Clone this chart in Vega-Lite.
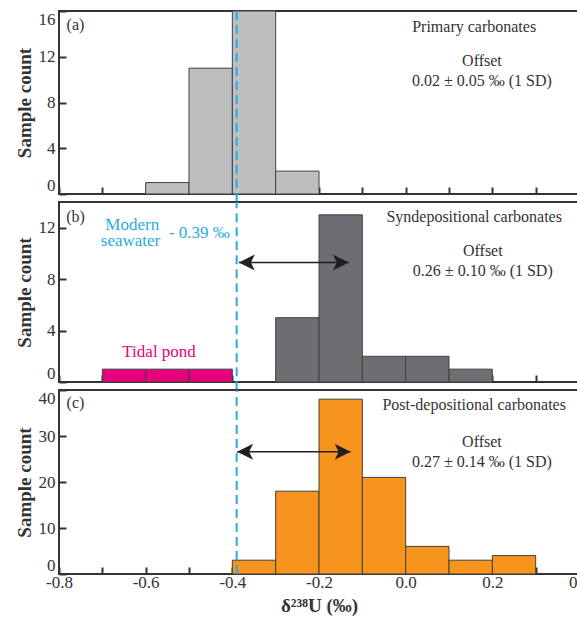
{
  "$schema": "https://vega.github.io/schema/vega-lite/v6.json",
  "padding": {"left": 14, "top": 9, "right": 0, "bottom": 0},
  "background": "white",
  "bounds": "flush",
  "spacing": 8,
  "config": {
    "view": {"stroke": "#333333", "strokeWidth": 2},
    "font": "Liberation Serif",
    "axis": {
      "labelFont": "Liberation Serif", "labelFontSize": 17, "labelColor": "#333333",
      "tickColor": "#333333", "tickWidth": 2, "tickSize": -7, "domain": false, "grid": false,
      "labelFlush": false, "labelOverlap": false, "labelPadding": 11,
      "titleFont": "Liberation Serif", "titleFontSize": 19, "titleFontWeight": "bold", "titleColor": "#333333"
    }
  },
  "datasets": {
    "bars": [
      {"panel": "a", "lo": -0.6, "hi": -0.5, "count": 1, "group": "primary"},
      {"panel": "a", "lo": -0.5, "hi": -0.4, "count": 11, "group": "primary"},
      {"panel": "a", "lo": -0.4, "hi": -0.3, "count": 16, "group": "primary"},
      {"panel": "a", "lo": -0.3, "hi": -0.2, "count": 2, "group": "primary"},
      {"panel": "b", "lo": -0.7, "hi": -0.6, "count": 1, "group": "tidal"},
      {"panel": "b", "lo": -0.6, "hi": -0.5, "count": 1, "group": "tidal"},
      {"panel": "b", "lo": -0.5, "hi": -0.4, "count": 1, "group": "tidal"},
      {"panel": "b", "lo": -0.3, "hi": -0.2, "count": 5, "group": "syn"},
      {"panel": "b", "lo": -0.2, "hi": -0.1, "count": 13, "group": "syn"},
      {"panel": "b", "lo": -0.1, "hi": 0.0, "count": 2, "group": "syn"},
      {"panel": "b", "lo": 0.0, "hi": 0.1, "count": 2, "group": "syn"},
      {"panel": "b", "lo": 0.1, "hi": 0.2, "count": 1, "group": "syn"},
      {"panel": "c", "lo": -0.4, "hi": -0.3, "count": 3, "group": "post"},
      {"panel": "c", "lo": -0.3, "hi": -0.2, "count": 18, "group": "post"},
      {"panel": "c", "lo": -0.2, "hi": -0.1, "count": 38, "group": "post"},
      {"panel": "c", "lo": -0.1, "hi": 0.0, "count": 21, "group": "post"},
      {"panel": "c", "lo": 0.0, "hi": 0.1, "count": 6, "group": "post"},
      {"panel": "c", "lo": 0.1, "hi": 0.2, "count": 3, "group": "post"},
      {"panel": "c", "lo": 0.2, "hi": 0.3, "count": 4, "group": "post"}
    ],
    "seawater": [
      {"panel": "a", "x": -0.39, "y0": -0.7, "y1": 16},
      {"panel": "b", "x": -0.39, "y0": -0.65, "y1": 14},
      {"panel": "c", "x": -0.39, "y0": 0, "y1": 40}
    ],
    "arrows": [
      {"panel": "b", "x0": -0.385, "x1": -0.131, "y": 9.3},
      {"panel": "c", "x0": -0.389, "x1": -0.127, "y": 26.6}
    ],
    "notes": [
      {"panel": "a", "kind": "plain", "x": -0.762, "y": 14.8, "text": "(a)"},
      {"panel": "a", "kind": "plain", "x": 0.158, "y": 14.6, "text": "Primary carbonates"},
      {"panel": "a", "kind": "plain", "x": 0.176, "y": 11.6, "text": "Offset"},
      {"panel": "a", "kind": "plain", "x": 0.176, "y": 9.85, "text": "0.02 ± 0.05 ‰ (1 SD)"},
      {"panel": "b", "kind": "plain", "x": -0.762, "y": 12.8, "text": "(b)"},
      {"panel": "b", "kind": "plain", "x": 0.158, "y": 12.8, "text": "Syndepositional carbonates"},
      {"panel": "b", "kind": "plain", "x": 0.178, "y": 10.2, "text": "Offset"},
      {"panel": "b", "kind": "plain", "x": 0.178, "y": 8.67, "text": "0.26 ± 0.10 ‰ (1 SD)"},
      {"panel": "b", "kind": "seawater", "x": -0.631, "y": 12.25, "text": "Modern"},
      {"panel": "b", "kind": "seawater", "x": -0.635, "y": 11.0, "text": "seawater"},
      {"panel": "b", "kind": "seawater", "x": -0.476, "y": 11.6, "text": "- 0.39 ‰"},
      {"panel": "b", "kind": "tidal", "x": -0.569, "y": 2.3, "text": "Tidal pond"},
      {"panel": "c", "kind": "plain", "x": -0.762, "y": 37.2, "text": "(c)"},
      {"panel": "c", "kind": "plain", "x": 0.158, "y": 36.8, "text": "Post-depositional carbonates"},
      {"panel": "c", "kind": "plain", "x": 0.176, "y": 28.8, "text": "Offset"},
      {"panel": "c", "kind": "plain", "x": 0.176, "y": 24.4, "text": "0.27 ± 0.14 ‰ (1 SD)"}
    ]
  },
  "vconcat": [
    {
      "width": 520, "height": 183,
      "layer": [
        {
          "data": {"name": "bars"},
          "transform": [{"filter": "datum.panel == 'a'"}],
          "mark": {"type": "bar", "stroke": "#404040", "strokeWidth": 1},
          "encoding": {
            "x": {"field": "lo", "type": "quantitative", "scale": {"domain": [-0.8, 0.4], "nice": false, "zero": false},
                  "axis": {"values": [-0.8, -0.7, -0.6, -0.5, -0.4, -0.3, -0.2, -0.1, 0, 0.1, 0.2, 0.3, 0.4], "labels": false, "title": null}},
            "x2": {"field": "hi"},
            "y": {"field": "count", "type": "quantitative", "scale": {"domain": [0, 16], "nice": false},
                  "axis": {"values": [0, 2, 4, 6, 8, 10, 12, 14, 16], "labelExpr": "datum.value % 4 == 0 ? datum.label : ''", "title": "Sample count", "titlePadding": 4,
                           "labelBaseline": {"condition": [{"test": "datum.value == 16", "value": "top"}, {"test": "datum.value == 0", "value": "bottom"}], "value": "middle"}}},
            "y2": {"datum": 0},
            "color": {"field": "group", "type": "nominal", "legend": null,
                      "scale": {"domain": ["primary", "syn", "tidal", "post"], "range": ["#bcbec0", "#6d6e71", "#e6007e", "#f7941d"]}}
          }
        },
        {
          "data": {"name": "seawater"},
          "transform": [{"filter": "datum.panel == 'a'"}],
          "mark": {"type": "rule", "color": "#29abe2", "strokeWidth": 2, "strokeDash": [9, 5]},
          "encoding": {"x": {"field": "x", "type": "quantitative"}, "y": {"field": "y0", "type": "quantitative"}, "y2": {"field": "y1"}}
        },
        {
          "data": {"name": "notes"},
          "transform": [{"filter": "datum.panel == 'a'"}],
          "mark": {"type": "text", "font": "Liberation Serif", "fontSize": 16, "color": "#333333", "align": "center", "baseline": "middle"},
          "encoding": {"x": {"field": "x", "type": "quantitative"}, "y": {"field": "y", "type": "quantitative"}, "text": {"field": "text"}}
        }
      ]
    },
    {
      "width": 520, "height": 180,
      "layer": [
        {
          "data": {"name": "bars"},
          "transform": [{"filter": "datum.panel == 'b'"}],
          "mark": {"type": "bar", "stroke": "#404040", "strokeWidth": 1},
          "encoding": {
            "x": {"field": "lo", "type": "quantitative", "scale": {"domain": [-0.8, 0.4], "nice": false, "zero": false},
                  "axis": {"values": [-0.8, -0.7, -0.6, -0.5, -0.4, -0.3, -0.2, -0.1, 0, 0.1, 0.2, 0.3, 0.4], "labels": false, "title": null}},
            "x2": {"field": "hi"},
            "y": {"field": "count", "type": "quantitative", "scale": {"domain": [0, 14], "nice": false},
                  "axis": {"values": [0, 2, 4, 6, 8, 10, 12], "labelExpr": "datum.value % 4 == 0 ? datum.label : ''", "title": "Sample count", "titlePadding": 4,
                           "labelBaseline": {"condition": {"test": "datum.value == 0", "value": "bottom"}, "value": "middle"}}},
            "y2": {"datum": 0},
            "color": {"field": "group", "type": "nominal", "legend": null,
                      "scale": {"domain": ["primary", "syn", "tidal", "post"], "range": ["#bcbec0", "#6d6e71", "#e6007e", "#f7941d"]}}
          }
        },
        {
          "data": {"name": "seawater"},
          "transform": [{"filter": "datum.panel == 'b'"}],
          "mark": {"type": "rule", "color": "#29abe2", "strokeWidth": 2, "strokeDash": [9, 5]},
          "encoding": {"x": {"field": "x", "type": "quantitative"}, "y": {"field": "y0", "type": "quantitative"}, "y2": {"field": "y1"}}
        },
        {
          "data": {"name": "arrows"},
          "transform": [{"filter": "datum.panel == 'b'"}],
          "mark": {"type": "rule", "color": "#231f20", "strokeWidth": 1.5},
          "encoding": {"x": {"field": "x0", "type": "quantitative"}, "x2": {"field": "x1"}, "y": {"field": "y", "type": "quantitative"}}
        },
        {
          "data": {"name": "arrows"},
          "transform": [{"filter": "datum.panel == 'b'"}],
          "mark": {"type": "point", "filled": true, "color": "#231f20", "opacity": 1, "size": 256, "shape": "M0,0 L2,-1 L1.5,0 L2,1 Z"},
          "encoding": {"x": {"field": "x0", "type": "quantitative"}, "y": {"field": "y", "type": "quantitative"}}
        },
        {
          "data": {"name": "arrows"},
          "transform": [{"filter": "datum.panel == 'b'"}],
          "mark": {"type": "point", "filled": true, "color": "#231f20", "opacity": 1, "size": 256, "shape": "M0,0 L-2,-1 L-1.5,0 L-2,1 Z"},
          "encoding": {"x": {"field": "x1", "type": "quantitative"}, "y": {"field": "y", "type": "quantitative"}}
        },
        {
          "data": {"name": "notes"},
          "transform": [{"filter": "datum.panel == 'b' && datum.kind == 'plain'"}],
          "mark": {"type": "text", "font": "Liberation Serif", "fontSize": 16, "color": "#333333", "align": "center", "baseline": "middle"},
          "encoding": {"x": {"field": "x", "type": "quantitative"}, "y": {"field": "y", "type": "quantitative"}, "text": {"field": "text"}}
        },
        {
          "data": {"name": "notes"},
          "transform": [{"filter": "datum.panel == 'b' && datum.kind == 'seawater'"}],
          "mark": {"type": "text", "font": "Liberation Serif", "fontSize": 17, "color": "#29abe2", "align": "center", "baseline": "middle"},
          "encoding": {"x": {"field": "x", "type": "quantitative"}, "y": {"field": "y", "type": "quantitative"}, "text": {"field": "text"}}
        },
        {
          "data": {"name": "notes"},
          "transform": [{"filter": "datum.panel == 'b' && datum.kind == 'tidal'"}],
          "mark": {"type": "text", "font": "Liberation Serif", "fontSize": 17, "color": "#e6007e", "align": "center", "baseline": "middle"},
          "encoding": {"x": {"field": "x", "type": "quantitative"}, "y": {"field": "y", "type": "quantitative"}, "text": {"field": "text"}}
        }
      ]
    },
    {
      "width": 520, "height": 184,
      "layer": [
        {
          "data": {"name": "bars"},
          "transform": [{"filter": "datum.panel == 'c'"}],
          "mark": {"type": "bar", "stroke": "#404040", "strokeWidth": 1},
          "encoding": {
            "x": {"field": "lo", "type": "quantitative", "scale": {"domain": [-0.8, 0.4], "nice": false, "zero": false},
                  "axis": {"values": [-0.8, -0.7, -0.6, -0.5, -0.4, -0.3, -0.2, -0.1, 0, 0.1, 0.2, 0.3, 0.4],
                           "labelExpr": "round(datum.value * 10) % 2 == 0 ? replace(format(datum.value, '.1f'), '\u2212', '-') : ''",
                           "title": "δ²³⁸U (‰)", "titlePadding": 6, "labelPadding": 7}},
            "x2": {"field": "hi"},
            "y": {"field": "count", "type": "quantitative", "scale": {"domain": [0, 40], "nice": false},
                  "axis": {"values": [0, 5, 10, 15, 20, 25, 30, 35, 40], "labelExpr": "datum.value % 10 == 0 ? datum.label : ''", "title": "Sample count", "titlePadding": 4,
                           "labelBaseline": {"condition": [{"test": "datum.value == 40", "value": "top"}, {"test": "datum.value == 0", "value": "bottom"}], "value": "middle"}}},
            "y2": {"datum": 0},
            "color": {"field": "group", "type": "nominal", "legend": null,
                      "scale": {"domain": ["primary", "syn", "tidal", "post"], "range": ["#bcbec0", "#6d6e71", "#e6007e", "#f7941d"]}}
          }
        },
        {
          "data": {"name": "seawater"},
          "transform": [{"filter": "datum.panel == 'c'"}],
          "mark": {"type": "rule", "color": "#29abe2", "strokeWidth": 2, "strokeDash": [9, 5]},
          "encoding": {"x": {"field": "x", "type": "quantitative"}, "y": {"field": "y0", "type": "quantitative"}, "y2": {"field": "y1"}}
        },
        {
          "data": {"name": "arrows"},
          "transform": [{"filter": "datum.panel == 'c'"}],
          "mark": {"type": "rule", "color": "#231f20", "strokeWidth": 1.5},
          "encoding": {"x": {"field": "x0", "type": "quantitative"}, "x2": {"field": "x1"}, "y": {"field": "y", "type": "quantitative"}}
        },
        {
          "data": {"name": "arrows"},
          "transform": [{"filter": "datum.panel == 'c'"}],
          "mark": {"type": "point", "filled": true, "color": "#231f20", "opacity": 1, "size": 256, "shape": "M0,0 L2,-1 L1.5,0 L2,1 Z"},
          "encoding": {"x": {"field": "x0", "type": "quantitative"}, "y": {"field": "y", "type": "quantitative"}}
        },
        {
          "data": {"name": "arrows"},
          "transform": [{"filter": "datum.panel == 'c'"}],
          "mark": {"type": "point", "filled": true, "color": "#231f20", "opacity": 1, "size": 256, "shape": "M0,0 L-2,-1 L-1.5,0 L-2,1 Z"},
          "encoding": {"x": {"field": "x1", "type": "quantitative"}, "y": {"field": "y", "type": "quantitative"}}
        },
        {
          "data": {"name": "notes"},
          "transform": [{"filter": "datum.panel == 'c'"}],
          "mark": {"type": "text", "font": "Liberation Serif", "fontSize": 16, "color": "#333333", "align": "center", "baseline": "middle"},
          "encoding": {"x": {"field": "x", "type": "quantitative"}, "y": {"field": "y", "type": "quantitative"}, "text": {"field": "text"}}
        }
      ]
    }
  ]
}
